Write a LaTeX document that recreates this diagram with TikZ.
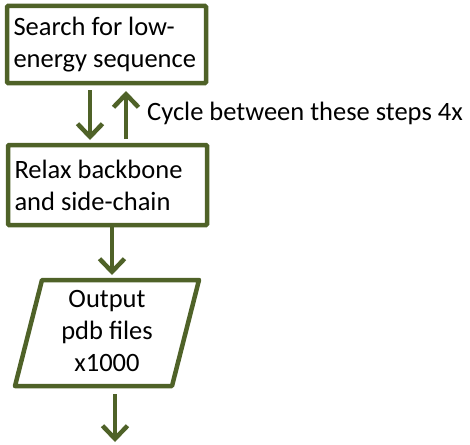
\documentclass[tikz,border=0pt]{standalone}
\usepackage{fontspec}
\setmainfont{Carlito}
\usetikzlibrary{arrows.meta}
\definecolor{olive}{RGB}{79,98,40}
\newcommand{\flowfont}{\fontsize{26.5}{32}\selectfont}
\tikzset{
  flowbox/.style={draw=olive, line width=4.5pt, rectangle, rounded corners=1pt,
    text width=186pt, align=flush left, inner sep=0pt, minimum width=199pt, font=\flowfont},
  flowarrow/.style={draw=olive, line width=4.5pt,
    -{Straight Barb[length=13pt, width=25pt, line width=4.5pt]}},
}
\begin{document}
\begin{tikzpicture}[x=1pt, y=-1pt]
  \useasboundingbox (0,0) rectangle (470,444);
  % processing steps
  \node[flowbox, minimum height=77pt] (search) at (106.5,44.5) {Search for low-\\energy sequence};
  \node[flowbox, minimum height=80pt] (relax) at (107.5,185) {Relax backbone\\and side-chain};
  % output parallelogram
  \coordinate (p1) at (42,280);
  \coordinate (p2) at (199,280);
  \coordinate (p3) at (172,386);
  \coordinate (p4) at (15,386);
  \draw[olive, line width=4.5pt, line join=round] (p1) -- (p2) -- (p3) -- (p4) -- cycle;
  \node[align=center, font=\flowfont, inner sep=0pt] (out) at (107,331) {Output\\pdb files\\x1000};
  % connectors
  \coordinate (d1) at (90,90);
  \coordinate (d2) at (90,140);
  \coordinate (u1) at (126,139);
  \coordinate (u2) at (126,91);
  \coordinate (o1) at (112,275);
  \coordinate (e1) at (115,394);
  \coordinate (e2) at (115,442);
  \draw[flowarrow] (d1) -- (d2);
  \draw[flowarrow] (u1) -- (u2);
  \draw[flowarrow] (relax.south -| o1) -- (o1);
  \draw[flowarrow] (e1) -- (e2);
  \node[anchor=west, inner sep=0pt, font=\flowfont] (cycle) at (147,113) {Cycle between these steps 4x};
\end{tikzpicture}
\end{document}
